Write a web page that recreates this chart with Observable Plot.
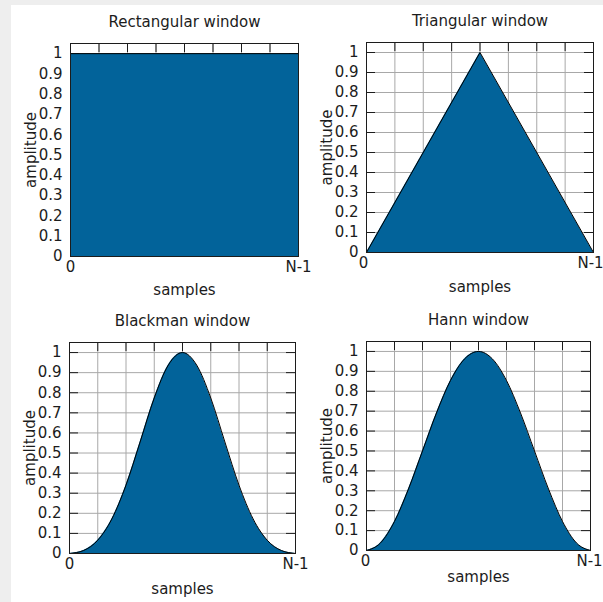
<!DOCTYPE html>
<html>
<head>
<meta charset="utf-8">
<script src="https://cdn.jsdelivr.net/npm/d3@7"></script>
<script src="https://cdn.jsdelivr.net/npm/@observablehq/plot@0.6"></script>
<style>
  html, body { margin: 0; padding: 0; background: #eeeeee; }
  #page { position: relative; width: 603px; height: 602px; background: #eeeeee; overflow: hidden; }
  #sheet { position: absolute; left: 11px; top: 5px; right: 0; bottom: 0; background: #ffffff; }
  .panel { position: absolute; }
  .panel svg { overflow: visible; }
</style>
</head>
<body>
<div id="page"><div id="sheet"></div></div>
<script>
// ---- Data ----
const panelTitles = ["Rectangular window", "Triangular window", "Blackman window", "Hann window"];
const xAxisLabel = "samples";
const yAxisLabel = "amplitude";

const xTickValues = [0, 1];
const xTickLabels = ["0", "N-1"];
const yTickValues = [0, 0.1, 0.2, 0.3, 0.4, 0.5, 0.6, 0.7, 0.8, 0.9, 1];
const yTickLabels = ["0", "0.1", "0.2", "0.3", "0.4", "0.5", "0.6", "0.7", "0.8", "0.9", "1"];
const gridXValues = [0, 0.125, 0.25, 0.375, 0.5, 0.625, 0.75, 0.875, 1];

// sample position as fraction of N-1
const rectX = [0, 1];
const rectY = [1, 1];
const triX = [0, 0.5, 1];
const triY = [0, 1, 0];
const curveX = [0, 0.0625, 0.125, 0.1875, 0.25, 0.3125, 0.375, 0.4375, 0.5,
                0.5625, 0.625, 0.6875, 0.75, 0.8125, 0.875, 0.9375, 1];
const blackmanY = [0, 0.015, 0.066, 0.172, 0.34, 0.555, 0.774, 0.938, 1,
                   0.938, 0.774, 0.555, 0.34, 0.172, 0.066, 0.015, 0];
const hannY = [0, 0.038, 0.146, 0.309, 0.5, 0.691, 0.854, 0.962, 1,
               0.962, 0.854, 0.691, 0.5, 0.309, 0.146, 0.038, 0];

// ---- Drawing ----
const fillColor = "#02639a";
const ink = "#1c1c1c";
const gridColor = "#a8a8a8";
const tickLen = 9;

function panel(title, xs, ys, curve, L) {
  const data = xs.map((x, i) => ({x, y: ys[i]}));
  const innerW = L.width - L.mL - L.mR;
  const innerH = L.height - L.mT - L.mB;
  const svg = Plot.plot({
    width: L.width, height: L.height,
    marginLeft: L.mL, marginTop: L.mT, marginRight: L.mR, marginBottom: L.mB,
    style: {fontFamily: "'DejaVu Sans', sans-serif", fontSize: "15px", background: "transparent", color: ink, overflow: "visible"},
    x: {domain: [0, 1]},
    y: {domain: [0, 1.05]},
    marks: [
      Plot.gridX(gridXValues, {stroke: gridColor, strokeOpacity: 1}),
      Plot.gridY(yTickValues, {stroke: gridColor, strokeOpacity: 1}),
      Plot.gridY(yTickValues, {stroke: ink, strokeOpacity: 1, insetRight: innerW - tickLen}),
      Plot.gridY(yTickValues, {stroke: ink, strokeOpacity: 1, insetLeft: innerW - tickLen}),
      Plot.gridX(gridXValues, {stroke: ink, strokeOpacity: 1, insetTop: innerH - tickLen}),
      Plot.gridX(gridXValues, {stroke: ink, strokeOpacity: 1, insetBottom: innerH - tickLen}),
      Plot.areaY(data, {x: "x", y: "y", fill: fillColor, curve}),
      Plot.lineY(data, {x: "x", y: "y", stroke: "#000", strokeWidth: 1, curve}),
      Plot.frame({stroke: ink}),
      Plot.axisY(yTickValues, {tickSize: 0, tickPadding: 8, label: null,
        tickFormat: d => yTickLabels[yTickValues.indexOf(d)]}),
      Plot.axisX(xTickValues, {tickSize: 0, tickPadding: 5, label: null, dx: L.xTickDx,
        tickFormat: d => xTickLabels[xTickValues.indexOf(d)]}),
      Plot.text([title], {frameAnchor: "top", dy: -21, lineAnchor: "middle", text: d => d}),
      Plot.text([xAxisLabel], {frameAnchor: "bottom", dy: L.xLabelDy, lineAnchor: "middle", text: d => d}),
      Plot.text([yAxisLabel], {frameAnchor: "left", dx: -39, rotate: -90, textAnchor: "middle", lineAnchor: "middle", text: d => d})
    ]
  });
  const div = document.createElement("div");
  div.className = "panel";
  div.style.left = L.left + "px";
  div.style.top = L.top + "px";
  div.appendChild(svg);
  document.getElementById("page").appendChild(div);
}

panel(panelTitles[0], rectX, rectY, "linear",
  {left: 0, top: 0, width: 300, height: 300, mL: 70, mT: 43, mR: 2, mB: 44, xLabelDy: 34, xTickDx: 0});
panel(panelTitles[1], triX, triY, "linear",
  {left: 300, top: 0, width: 303, height: 300, mL: 66, mT: 42, mR: 10, mB: 48, xLabelDy: 35, xTickDx: -3});
panel(panelTitles[2], curveX, blackmanY, "monotone-x",
  {left: 0, top: 300, width: 300, height: 300, mL: 69, mT: 42, mR: 5, mB: 47, xLabelDy: 36, xTickDx: 0});
panel(panelTitles[3], curveX, hannY, "monotone-x",
  {left: 300, top: 300, width: 303, height: 300, mL: 66, mT: 41, mR: 13, mB: 50, xLabelDy: 27, xTickDx: -1});
</script>
</body>
</html>
